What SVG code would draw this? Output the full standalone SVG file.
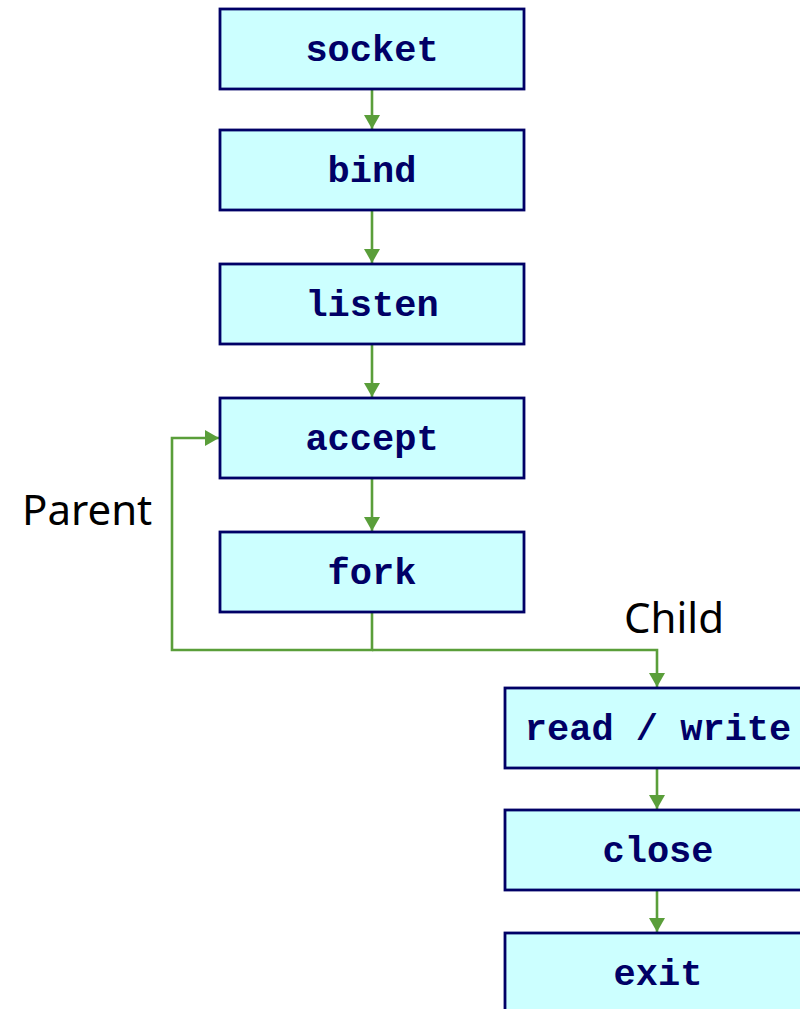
<svg xmlns="http://www.w3.org/2000/svg" width="800" height="1009" viewBox="0 0 800 1009">
  <style>
    .box { fill: #ccffff; stroke: #000066; stroke-width: 2.8; }
    .lbl { font-family: "Liberation Mono", "Courier New", monospace; font-weight: bold; font-size: 37px; fill: #000066; text-anchor: middle; }
    .cap { font-family: "Noto Sans", "Open Sans", sans-serif; font-size: 42px; fill: #000000; }
    .edge { fill: none; stroke: #5a9e3a; stroke-width: 2.6; }
  </style>
  <defs>
    <marker id="arrow" markerUnits="userSpaceOnUse" markerWidth="16" markerHeight="16" viewBox="0 0 14 16" refX="14" refY="8" orient="auto">
      <path d="M0,0 L14,8 L0,16 Z" fill="#5a9e3a"/>
    </marker>
  </defs>

  <rect x="0" y="0" width="800" height="1009" fill="#ffffff"/>

  <g id="connectors">
    <line class="edge" x1="372" y1="89" x2="372" y2="129" marker-end="url(#arrow)"/>
    <line class="edge" x1="372" y1="210" x2="372" y2="263" marker-end="url(#arrow)"/>
    <line class="edge" x1="372" y1="344" x2="372" y2="397" marker-end="url(#arrow)"/>
    <line class="edge" x1="372" y1="478" x2="372" y2="531" marker-end="url(#arrow)"/>
    <polyline class="edge" points="372,612 372,650 172,650 172,438 219,438" marker-end="url(#arrow)"/>
    <polyline class="edge" points="372,650 657,650 657,687" marker-end="url(#arrow)"/>
    <line class="edge" x1="657" y1="768" x2="657" y2="809" marker-end="url(#arrow)"/>
    <line class="edge" x1="657" y1="890" x2="657" y2="932" marker-end="url(#arrow)"/>
  </g>

  <g id="socket">
    <rect class="box" x="220" y="9" width="304" height="80"/>
    <text class="lbl" x="372" y="61">socket</text>
  </g>
  <g id="bind">
    <rect class="box" x="220" y="130" width="304" height="80"/>
    <text class="lbl" x="372" y="182">bind</text>
  </g>
  <g id="listen">
    <rect class="box" x="220" y="264" width="304" height="80"/>
    <text class="lbl" x="372" y="316">listen</text>
  </g>
  <g id="accept">
    <rect class="box" x="220" y="398" width="304" height="80"/>
    <text class="lbl" x="372" y="450">accept</text>
  </g>
  <g id="fork">
    <rect class="box" x="220" y="532" width="304" height="80"/>
    <text class="lbl" x="372" y="584">fork</text>
  </g>
  <g id="read-write">
    <rect class="box" x="505" y="688" width="304" height="80"/>
    <text class="lbl" x="658" y="740">read / write</text>
  </g>
  <g id="close">
    <rect class="box" x="505" y="810" width="304" height="80"/>
    <text class="lbl" x="658" y="862">close</text>
  </g>
  <g id="exit">
    <rect class="box" x="505" y="933" width="304" height="80"/>
    <text class="lbl" x="658" y="985">exit</text>
  </g>

  <g id="labels">
    <text class="cap" x="22" y="525">Parent</text>
    <text class="cap" x="624" y="633">Child</text>
  </g>
</svg>
